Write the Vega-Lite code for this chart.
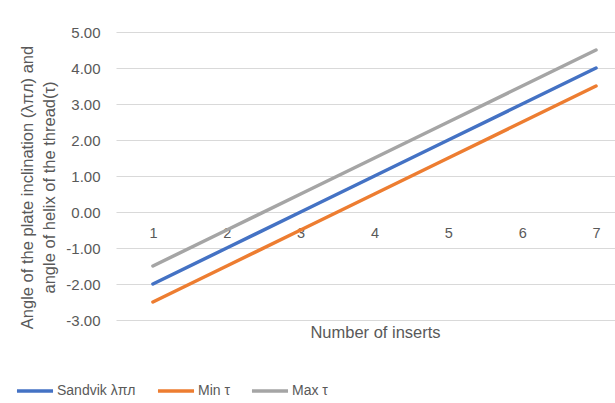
{
  "$schema": "https://vega.github.io/schema/vega-lite/v6.json",
  "autosize": {"type": "none"},
  "padding": {"left": 116, "top": 32, "right": 0, "bottom": 83},
  "width": 499,
  "height": 288,
  "config": {
    "view": {"stroke": null},
    "font": "Liberation Sans",
    "axis": {"labelColor": "#595959", "titleColor": "#595959", "labelFont": "Liberation Sans", "titleFont": "Liberation Sans", "titleFontWeight": "normal"},
    "legend": {"labelColor": "#595959", "labelFont": "Liberation Sans"}
  },
  "data": {
    "values": [
      {"series": "Sandvik λπл", "n": 1, "v": -2},
      {"series": "Sandvik λπл", "n": 2, "v": -1},
      {"series": "Sandvik λπл", "n": 3, "v": 0},
      {"series": "Sandvik λπл", "n": 4, "v": 1},
      {"series": "Sandvik λπл", "n": 5, "v": 2},
      {"series": "Sandvik λπл", "n": 6, "v": 3},
      {"series": "Sandvik λπл", "n": 7, "v": 4},
      {"series": "Min τ", "n": 1, "v": -2.5},
      {"series": "Min τ", "n": 2, "v": -1.5},
      {"series": "Min τ", "n": 3, "v": -0.5},
      {"series": "Min τ", "n": 4, "v": 0.5},
      {"series": "Min τ", "n": 5, "v": 1.5},
      {"series": "Min τ", "n": 6, "v": 2.5},
      {"series": "Min τ", "n": 7, "v": 3.5},
      {"series": "Max τ", "n": 1, "v": -1.5},
      {"series": "Max τ", "n": 2, "v": -0.5},
      {"series": "Max τ", "n": 3, "v": 0.5},
      {"series": "Max τ", "n": 4, "v": 1.5},
      {"series": "Max τ", "n": 5, "v": 2.5},
      {"series": "Max τ", "n": 6, "v": 3.5},
      {"series": "Max τ", "n": 7, "v": 4.5}
    ]
  },
  "mark": {"type": "line", "strokeWidth": 3.5, "strokeCap": "round", "clip": false},
  "encoding": {
    "x": {
      "field": "n", "type": "quantitative",
      "scale": {"domain": [0.5, 7.257], "nice": false, "zero": false},
      "axis": {
        "values": [1, 2, 3, 4, 5, 6, 7], "format": "d",
        "offset": -108, "domain": false, "ticks": false, "grid": false,
        "labelFontSize": 14.5, "labelPadding": 14,
        "title": "Number of inserts", "titleFontSize": 16.5, "titleY": 112, "titleX": 259, "titleBaseline": "top"
      }
    },
    "y": {
      "field": "v", "type": "quantitative",
      "scale": {"domain": [-3, 5], "nice": false, "zero": false},
      "axis": {
        "values": [-3, -2, -1, 0, 1, 2, 3, 4, 5],
        "labelExpr": "replace(format(datum.value, '.2f'), '\u2212', '-')",
        "domain": false, "ticks": false, "grid": true, "gridColor": "#D9D9D9", "gridWidth": 1,
        "labelFontSize": 15, "labelPadding": 16,
        "title": ["Angle of the plate inclination (λπл)  and", "angle of helix of the thread(τ)"],
        "titleFontSize": 16.5, "titleLineHeight": 22, "titlePadding": 8, "titleY": 155
      }
    },
    "color": {
      "field": "series", "type": "nominal",
      "scale": {"domain": ["Sandvik λπл", "Min τ", "Max τ"], "range": ["#4472C4", "#ED7D31", "#A5A5A5"]},
      "legend": {
        "title": null, "orient": "none", "direction": "horizontal",
        "legendX": -101, "legendY": 339,
        "symbolType": "stroke", "symbolSize": 1300, "symbolStrokeWidth": 3.5,
        "labelFontSize": 14, "labelOffset": 2, "columnPadding": 14
      }
    }
  }
}
